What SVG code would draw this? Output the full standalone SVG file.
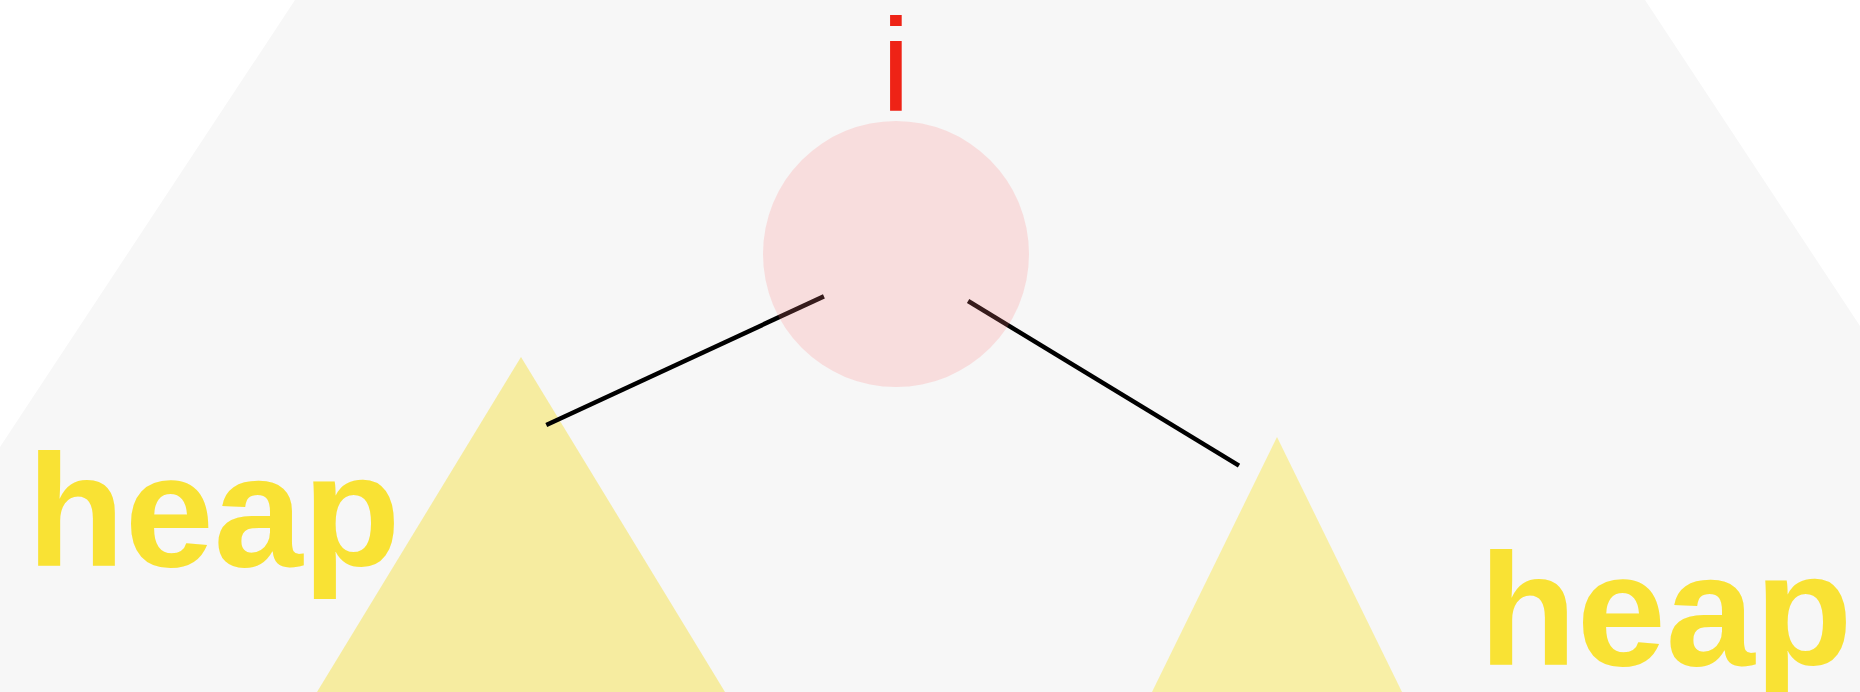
<svg xmlns="http://www.w3.org/2000/svg" width="1860" height="692" viewBox="0 0 1860 692">
  <style>
    .heap { font-family: "Liberation Sans", Arial, sans-serif; font-weight: bold; font-size: 160px; fill: #f9e234; }
    .edge { stroke: #000000; stroke-width: 4.5; fill: none; }
  </style>
  <rect x="0" y="0" width="1860" height="692" fill="#ffffff"/>
  <polygon id="backdrop" points="295,0 1645,0 1860,326 1860,692 0,692 0,447" fill="#f7f7f7"/>
  <g id="left-subtree">
    <polygon points="521,357 317,692 725,692" fill="#f6eca0"/>
  </g>
  <g id="right-subtree">
    <polygon points="1277,437 1152,692 1402,692" fill="#f8efa6"/>
  </g>
  <g id="connectors">
    <line class="edge" x1="546.3" y1="425" x2="823.9" y2="296.4"/>
    <line class="edge" x1="968.1" y1="301" x2="1239" y2="465.7"/>
  </g>
  <g id="root">
    <circle cx="896" cy="254" r="133" fill="#ff8080" fill-opacity="0.21"/>
    <text x="896" y="111" text-anchor="middle" font-family="Liberation Sans, Arial, sans-serif" font-size="132" fill="#ee2316">i</text>
  </g>
  <g id="label-left">
    <text class="heap" x="27" y="566">heap</text>
  </g>
  <g id="label-right">
    <text class="heap" x="1479" y="665">heap</text>
  </g>
</svg>
